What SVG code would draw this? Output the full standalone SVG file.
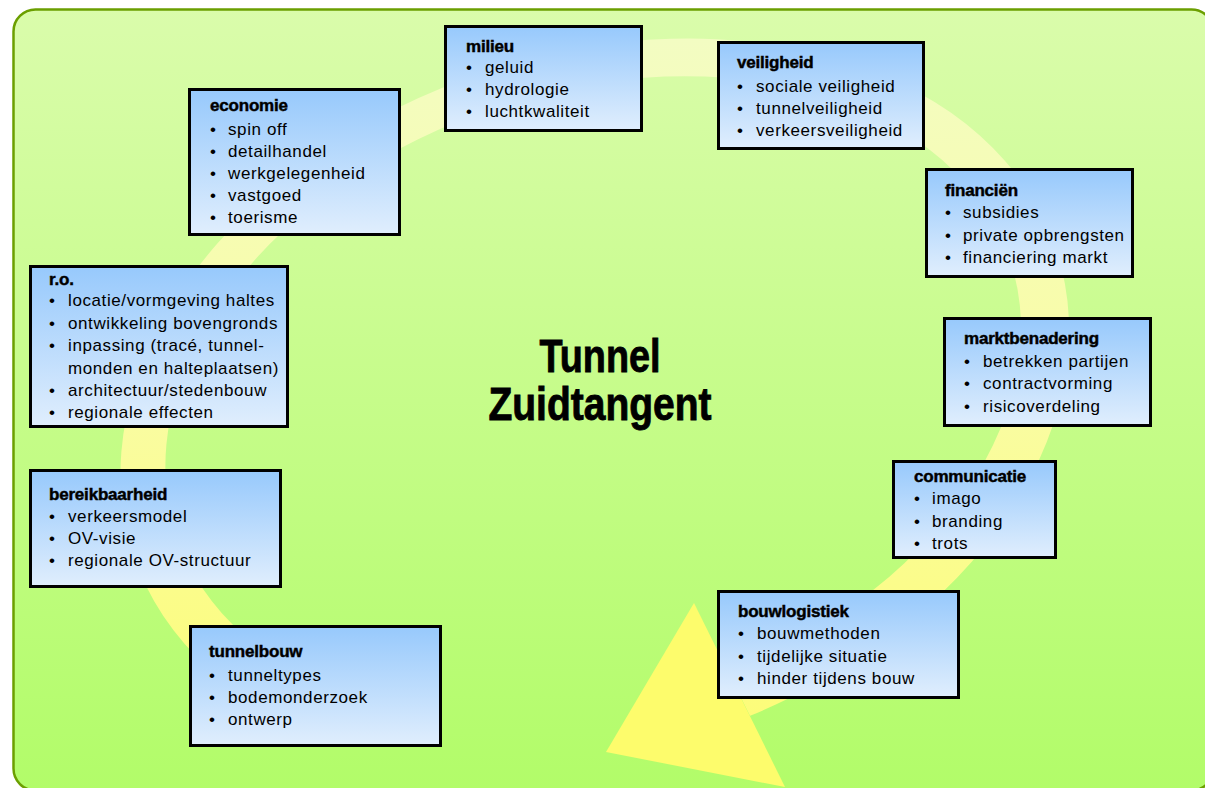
<svg xmlns="http://www.w3.org/2000/svg" width="1205" height="788" viewBox="0 0 1205 788">
  <defs>
    <linearGradient id="bgFill" x1="0" y1="0" x2="0" y2="1">
      <stop offset="0" stop-color="#dafcab"/>
      <stop offset="1" stop-color="#b2fc69"/>
    </linearGradient>
    <linearGradient id="boxFill" x1="0" y1="0" x2="0" y2="1">
      <stop offset="0" stop-color="#97c9fc"/>
      <stop offset="1" stop-color="#e0eefd"/>
    </linearGradient>
    <!-- band colour runs from pale at the top to saturated yellow at the bottom (vector given in the ring's rotated frame) -->
    <linearGradient id="ringFill" gradientUnits="userSpaceOnUse" x1="112" y1="-342" x2="-122" y2="370">
      <stop offset="0" stop-color="#f3fcc2"/>
      <stop offset="0.45" stop-color="#f9fca6"/>
      <stop offset="1" stop-color="#fdfc70"/>
    </linearGradient>
    <!-- removes the bottom wedge between the tail and the arrowhead base -->
    <clipPath id="ringGap" clipPathUnits="userSpaceOnUse">
      <polygon points="0,0 282,1984 2000,2000 2000,-2000 -2000,-2000 -2000,1188"/>
    </clipPath>
    <style>
      .box rect { fill: url(#boxFill); stroke: #000; stroke-width: 3; }
      .title { font-family: "Liberation Sans", Arial, sans-serif; font-size: 17px; font-weight: bold; fill: #000; stroke: #000; stroke-width: 0.45; letter-spacing: -0.2px; }
      .item { font-family: "Liberation Sans", Arial, sans-serif; font-size: 17px; fill: #000; letter-spacing: 0.6px; }
      .headline { font-family: "Liberation Sans Narrow", "Liberation Sans", Arial, sans-serif; font-size: 47px; font-weight: bold; fill: #000; stroke: #000; stroke-width: 0.9; text-anchor: middle; }
    </style>
  </defs>

  <!-- slide panel -->
  <rect x="13.5" y="9.5" width="1200" height="781" rx="22" ry="22" fill="url(#bgFill)" stroke="#6b9f00" stroke-width="2.5"/>

  <!-- circular arrow behind the boxes -->
  <g id="connectors">
    <g id="cycle-arrow">
      <g transform="translate(594 400) rotate(-18.2)">
        <path clip-path="url(#ringGap)" fill="url(#ringFill)" fill-rule="evenodd"
              d="M -486 2.5 A 486 348 0 1 0 486 2.5 A 486 348 0 1 0 -486 2.5 Z
                 M -439 -2.5 A 439 306 0 1 0 439 -2.5 A 439 306 0 1 0 -439 -2.5 Z"/>
      </g>
      <polygon points="694,603 606,752 785,787" fill="#fdfc6c"/>
    </g>
  </g>

  <!-- centre title -->
  <g id="title">
    <text class="headline" x="600" y="372" textLength="121" lengthAdjust="spacingAndGlyphs">Tunnel</text>
    <text class="headline" x="600" y="420" textLength="223" lengthAdjust="spacingAndGlyphs">Zuidtangent</text>
  </g>

  <g id="milieu" class="box">
    <rect x="445.5" y="26.5" width="196" height="104"/>
    <text class="title" x="466" y="52">milieu</text>
    <text class="item"><tspan x="466" y="73">•</tspan><tspan x="466" y="95">•</tspan><tspan x="466" y="117">•</tspan></text>
    <text class="item"><tspan x="485" y="73">geluid</tspan><tspan x="485" y="95">hydrologie</tspan><tspan x="485" y="117">luchtkwaliteit</tspan></text>
  </g>

  <g id="veiligheid" class="box">
    <rect x="718.5" y="42.5" width="205" height="106"/>
    <text class="title" x="737" y="68">veiligheid</text>
    <text class="item"><tspan x="737" y="91.5">•</tspan><tspan x="737" y="113.5">•</tspan><tspan x="737" y="135.5">•</tspan></text>
    <text class="item"><tspan x="756" y="91.5">sociale veiligheid</tspan><tspan x="756" y="113.5">tunnelveiligheid</tspan><tspan x="756" y="135.5">verkeersveiligheid</tspan></text>
  </g>

  <g id="economie" class="box">
    <rect x="189.5" y="89.5" width="210" height="145"/>
    <text class="title" x="210" y="111">economie</text>
    <text class="item"><tspan x="210" y="134.5">•</tspan><tspan x="210" y="156.5">•</tspan><tspan x="210" y="178.5">•</tspan><tspan x="210" y="200.5">•</tspan><tspan x="210" y="222.5">•</tspan></text>
    <text class="item"><tspan x="228" y="134.5">spin off</tspan><tspan x="228" y="156.5">detailhandel</tspan><tspan x="228" y="178.5">werkgelegenheid</tspan><tspan x="228" y="200.5">vastgoed</tspan><tspan x="228" y="222.5">toerisme</tspan></text>
  </g>

  <g id="financien" class="box">
    <rect x="926.5" y="169.5" width="206" height="107"/>
    <text class="title" x="945" y="196">financiën</text>
    <text class="item"><tspan x="945" y="218">•</tspan><tspan x="945" y="240.5">•</tspan><tspan x="945" y="263">•</tspan></text>
    <text class="item"><tspan x="963" y="218">subsidies</tspan><tspan x="963" y="240.5">private opbrengsten</tspan><tspan x="963" y="263">financiering markt</tspan></text>
  </g>

  <g id="ro" class="box">
    <rect x="30.5" y="266.5" width="257" height="160"/>
    <text class="title" x="49" y="285">r.o.</text>
    <text class="item"><tspan x="49" y="306">•</tspan><tspan x="49" y="328.5">•</tspan><tspan x="49" y="351">•</tspan><tspan x="49" y="396">•</tspan><tspan x="49" y="418">•</tspan></text>
    <text class="item"><tspan x="68" y="306">locatie/vormgeving haltes</tspan><tspan x="68" y="328.5">ontwikkeling bovengronds</tspan><tspan x="68" y="351">inpassing (tracé, tunnel-</tspan><tspan x="68" y="373.5">monden en halteplaatsen)</tspan><tspan x="68" y="396">architectuur/stedenbouw</tspan><tspan x="68" y="418">regionale effecten</tspan></text>
  </g>

  <g id="marktbenadering" class="box">
    <rect x="944.5" y="318.5" width="206" height="107"/>
    <text class="title" x="964" y="344">marktbenadering</text>
    <text class="item"><tspan x="964" y="366.5">•</tspan><tspan x="964" y="389">•</tspan><tspan x="964" y="411.5">•</tspan></text>
    <text class="item"><tspan x="983" y="366.5">betrekken partijen</tspan><tspan x="983" y="389">contractvorming</tspan><tspan x="983" y="411.5">risicoverdeling</tspan></text>
  </g>

  <g id="communicatie" class="box">
    <rect x="893.5" y="461.5" width="162" height="96"/>
    <text class="title" x="914" y="482">communicatie</text>
    <text class="item"><tspan x="914" y="504">•</tspan><tspan x="914" y="526.5">•</tspan><tspan x="914" y="549">•</tspan></text>
    <text class="item"><tspan x="932" y="504">imago</tspan><tspan x="932" y="526.5">branding</tspan><tspan x="932" y="549">trots</tspan></text>
  </g>

  <g id="bereikbaarheid" class="box">
    <rect x="30.5" y="470.5" width="250" height="116"/>
    <text class="title" x="49" y="500">bereikbaarheid</text>
    <text class="item"><tspan x="49" y="522">•</tspan><tspan x="49" y="544">•</tspan><tspan x="49" y="566">•</tspan></text>
    <text class="item"><tspan x="68" y="522">verkeersmodel</tspan><tspan x="68" y="544">OV-visie</tspan><tspan x="68" y="566">regionale OV-structuur</tspan></text>
  </g>

  <g id="bouwlogistiek" class="box">
    <rect x="718.5" y="591.5" width="240" height="106"/>
    <text class="title" x="738" y="617">bouwlogistiek</text>
    <text class="item"><tspan x="738" y="639">•</tspan><tspan x="738" y="661.5">•</tspan><tspan x="738" y="684">•</tspan></text>
    <text class="item"><tspan x="757" y="639">bouwmethoden</tspan><tspan x="757" y="661.5">tijdelijke situatie</tspan><tspan x="757" y="684">hinder tijdens bouw</tspan></text>
  </g>

  <g id="tunnelbouw" class="box">
    <rect x="190.5" y="626.5" width="250" height="119"/>
    <text class="title" x="209" y="657">tunnelbouw</text>
    <text class="item"><tspan x="209" y="681">•</tspan><tspan x="209" y="703">•</tspan><tspan x="209" y="725">•</tspan></text>
    <text class="item"><tspan x="228" y="681">tunneltypes</tspan><tspan x="228" y="703">bodemonderzoek</tspan><tspan x="228" y="725">ontwerp</tspan></text>
  </g>
</svg>
